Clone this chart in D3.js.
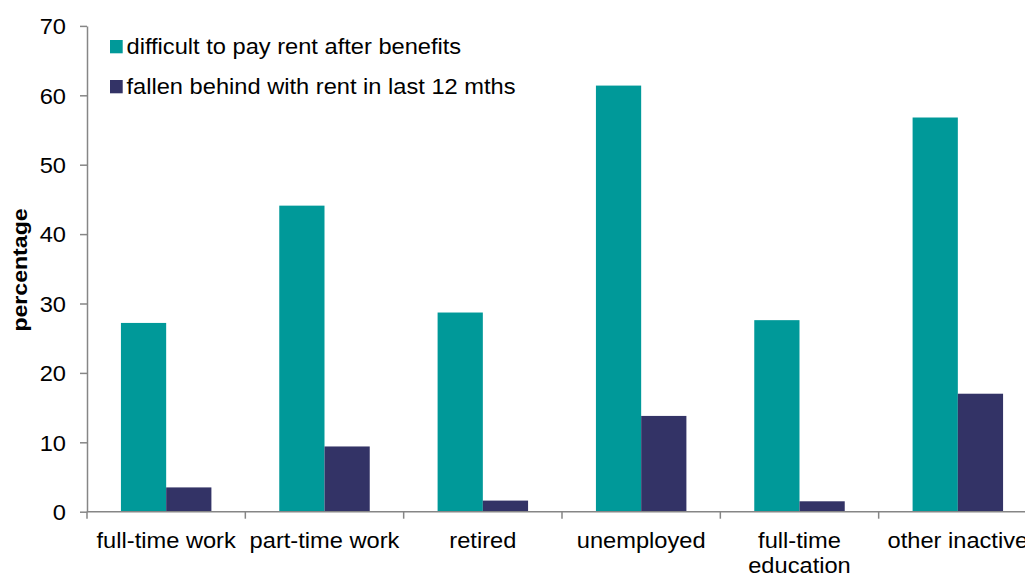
<!DOCTYPE html>
<html>
<head>
<meta charset="utf-8">
<script src="https://cdn.jsdelivr.net/npm/d3@7/dist/d3.min.js"></script>
<style>
  html, body { margin: 0; padding: 0; background: #fff; overflow: hidden; }
  svg text { font-family: "Liberation Sans", Arial, sans-serif; fill: #000; }
</style>
</head>
<body>
<svg id="chart" width="1025" height="574"></svg>
<script>
// Survey categories (economic status) and the two measured shares, in percent
const categories = ["full-time work", "part-time work", "retired", "unemployed", "full-time education", "other inactive"];
const categoryLines = [["full-time work"], ["part-time work"], ["retired"], ["unemployed"], ["full-time", "education"], ["other inactive"]];
const seriesNames = ["difficult to pay rent after benefits", "fallen behind with rent in last 12 mths"];
const difficultToPay = [27.2, 44.1, 28.7, 61.4, 27.6, 56.8];
const fallenBehind = [3.5, 9.4, 1.6, 13.8, 1.5, 17.0];
const yTicks = [0, 10, 20, 30, 40, 50, 60, 70];
const colors = ["#009999", "#333366"];

const svg = d3.select("#chart");
const plotLeft = 87, plotRight = 1037, plotTop = 25.9, plotBottom = 511.7;
const axisColor = "#868686";
const fontSize = "21.5px";
const widen = 1.1; // text is set slightly wide

const x = d3.scaleBand().domain(categories).range([plotLeft, plotRight]).paddingInner(0.4286).paddingOuter(0.2143);
const xs = d3.scaleBand().domain(seriesNames).range([0, x.bandwidth()]);
const y = d3.scaleLinear().domain([0, 70]).range([plotBottom, plotTop]);

const rows = categories.map((c, i) => ({ cat: c, vals: [difficultToPay[i], fallenBehind[i]] }));

// bars
const g = svg.append("g");
rows.forEach(r => {
  r.vals.forEach((v, j) => {
    g.append("rect")
      .attr("x", x(r.cat) + xs(seriesNames[j]))
      .attr("y", y(v))
      .attr("width", xs.bandwidth())
      .attr("height", y(0) - y(v))
      .attr("fill", colors[j]);
  });
});

// y axis
const yAxis = d3.axisLeft(y).tickValues(yTicks).tickSize(7).tickPadding(14).tickSizeOuter(0);
const ya = svg.append("g").attr("transform", `translate(${plotLeft},0)`).call(yAxis);
ya.select(".domain").attr("stroke", axisColor).attr("stroke-width", 1.5);
ya.selectAll(".tick line").attr("stroke", axisColor).attr("stroke-width", 1.5);
ya.selectAll(".tick text")
  .style("font-size", fontSize).attr("fill", "#000")
  .attr("x", 0).attr("dy", "0.36em")
  .attr("transform", `translate(-21,0) scale(${widen},1)`);

// x axis with ticks at category boundaries
const step = x.step();
const boundaries = d3.range(categories.length + 1).map(i => x(categories[0]) - x.paddingOuter() * step + i * step);
svg.append("line")
  .attr("x1", plotLeft).attr("x2", 1025)
  .attr("y1", plotBottom).attr("y2", plotBottom)
  .attr("stroke", axisColor).attr("stroke-width", 1.5);
svg.append("g").selectAll("line").data(boundaries).join("line")
  .attr("x1", d => d).attr("x2", d => d)
  .attr("y1", plotBottom).attr("y2", plotBottom + 7)
  .attr("stroke", axisColor).attr("stroke-width", 1.5);

// category labels
const xl = svg.append("g");
categories.forEach((c, i) => {
  const cx = x(c) + x.bandwidth() / 2;
  const t = xl.append("text")
    .attr("transform", `translate(${cx},548) scale(${widen},1)`)
    .attr("text-anchor", "middle")
    .style("font-size", fontSize);
  categoryLines[i].forEach((line, k) => {
    t.append("tspan").attr("x", 0).attr("dy", k === 0 ? 0 : 25).text(line);
  });
});

// y axis title
svg.append("text")
  .attr("transform", `translate(27,270) rotate(-90) scale(${widen},1)`)
  .attr("text-anchor", "middle")
  .style("font-size", "21px")
  .style("font-weight", "bold")
  .text("percentage");

// legend
const legend = svg.append("g");
seriesNames.forEach((name, j) => {
  const base = 54.3 + j * 40;
  legend.append("rect")
    .attr("x", 110).attr("y", base - 14.3)
    .attr("width", 12.7).attr("height", 13.3)
    .attr("fill", colors[j]);
  legend.append("text")
    .attr("transform", `translate(126.5,${base}) scale(${widen},1)`)
    .style("font-size", fontSize)
    .text(name);
});
</script>
</body>
</html>
